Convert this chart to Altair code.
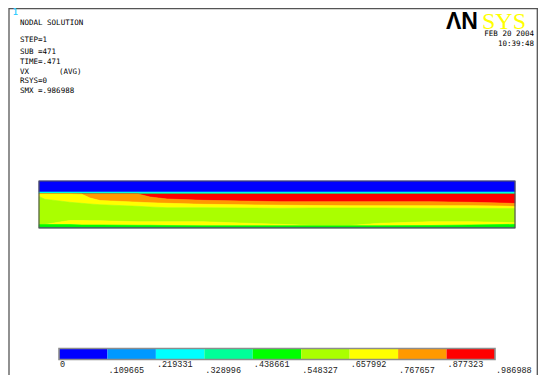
import altair as alt
import pandas as pd

# ---------------- data ----------------
DUCT_LENGTH = 476
DUCT_HEIGHT = 47

# stations along the duct (model units) and band boundaries (height from bottom)
stations = [0, 6, 21, 31, 43, 51, 61, 99, 111, 128, 164, 201, 241, 274, 311, 341, 391, 431, 461, 476]
red_bottom = [34, 34, 34, 34, 34, 34, 34, 34, 31, 29, 27.7, 27, 26.3, 26.3, 26.3, 26.3, 26.3, 25.7, 25, 24.5]
orange_bottom = [34, 34, 34, 34, 33.7, 30, 27.5, 25.8, 25.2, 24.7, 23.7, 23.3, 22.8, 22.5, 22.3, 22.3, 22.3, 22.3, 22, 21.5]
yellow_bottom = [31.5, 28.7, 27, 25.7, 24.7, 24, 23.3, 21.7, 21, 20.3, 20.3, 20, 19.7, 20, 20, 20, 19.7, 19.7, 19.5, 19.5]
lower_yellow_top = [3.5, 3.5, 6, 7.5, 7.5, 7.3, 7.2, 6.3, 6.3, 6.3, 6.3, 5, 3.7, 2.5, 2.5, 4.7, 6.3, 6.3, 5.7, 5.3]
green_top = [3.5, 3.5, 3.5, 3.5, 3, 3, 3, 2.7, 2.7, 2.5, 2.3, 2.3, 2.3, 2.3, 2.3, 2.3, 2.5, 3, 3.5, 3.7]
blue_bottom = 36
cyan_bottom = 35
wall_green_bottom = 34
bottom_green_bottom = 0.7

level_colors = ["#0000FF", "#0099FF", "#00FFFF", "#00FF99", "#00FF00",
                "#AAFF00", "#FFFF00", "#FF9900", "#FF0000"]
level_values = [0, 0.109665, 0.219331, 0.328996, 0.438661,
                0.548327, 0.657992, 0.767657, 0.877323, 0.986988]
level_labels = ["0", ".109665", ".219331", ".328996", ".438661",
                ".548327", ".657992", ".767657", ".877323", ".986988"]

header_lines = ["NODAL SOLUTION", "STEP=1", "SUB =471", "TIME=.471", "VX", "RSYS=0", "SMX =.986988"]
date_text = "FEB 20 2004"
time_text = "10:39:48"

# ---------------- build tables ----------------
n = len(stations)
bands = [
    ("blue", level_colors[0], [blue_bottom] * n, [DUCT_HEIGHT] * n),
    ("cyan", level_colors[2], [cyan_bottom] * n, [blue_bottom] * n),
    ("wallgreen", level_colors[3], [wall_green_bottom] * n, [cyan_bottom] * n),
    ("red", level_colors[8], red_bottom, [wall_green_bottom] * n),
    ("orange", level_colors[7], orange_bottom, red_bottom),
    ("yellow1", level_colors[6], yellow_bottom, orange_bottom),
    ("yellowgreen", level_colors[5], lower_yellow_top, yellow_bottom),
    ("yellow2", level_colors[6], green_top, lower_yellow_top),
    ("green", level_colors[4], [bottom_green_bottom] * n, green_top),
    ("edge", "#2F7F6A", [0] * n, [bottom_green_bottom] * n),
]
rows = []
for order, (name, col, lo, hi) in enumerate(bands):
    for i in range(n):
        rows.append({"band": name, "x": stations[i], "lo": lo[i], "hi": hi[i], "o": order})
field = pd.DataFrame(rows)
band_names = [b[0] for b in bands]
band_cols = [b[1] for b in bands]

xs = alt.Scale(domain=[0, DUCT_LENGTH], range=[31, 507], nice=False, zero=False)
ys = alt.Scale(domain=[0, DUCT_HEIGHT], range=[220, 173], nice=False, zero=False)

contour = alt.Chart(field).mark_area(interpolate="linear", strokeWidth=0.6).encode(
    x=alt.X("x:Q", scale=xs, axis=None),
    y=alt.Y("lo:Q", scale=ys, axis=None, stack=None),
    y2="hi:Q",
    color=alt.Color("band:N", scale=alt.Scale(domain=band_names, range=band_cols), legend=None),
    stroke=alt.Stroke("band:N", scale=alt.Scale(domain=band_names, range=band_cols), legend=None),
    order="o:Q",
)

outline = alt.Chart(pd.DataFrame({"x0": [0], "x1": [DUCT_LENGTH], "y0": [0], "y1": [DUCT_HEIGHT]})).mark_rect(
    filled=False, stroke="#555555", strokeWidth=1.2
).encode(
    x=alt.X("x0:Q", scale=xs, axis=None), x2="x1:Q",
    y=alt.Y("y0:Q", scale=ys, axis=None), y2="y1:Q",
)

# ---------------- colour bar ----------------
bar_df = pd.DataFrame({"lev": list(range(9)), "lev2": list(range(1, 10)), "c": level_colors})
cbx = alt.Scale(domain=[0, 9], range=[51, 487], nice=False, zero=False)
cbar = alt.Chart(bar_df).mark_rect().encode(
    x=alt.X("lev:Q", scale=cbx, axis=None), x2="lev2:Q",
    y=alt.value(341), y2=alt.value(351),
    color=alt.Color("c:N", scale=None, legend=None),
)
cbar_border = alt.Chart(pd.DataFrame({"a": [0], "b": [9]})).mark_rect(
    filled=False, stroke="#8C8C8C", strokeWidth=1.6
).encode(
    x=alt.X("a:Q", scale=cbx, axis=None), x2="b:Q",
    y=alt.value(340.5), y2=alt.value(351.5),
)
lab_df = pd.DataFrame({"i": list(range(10)), "v": level_values, "t": level_labels,
                       "row": [i % 2 for i in range(10)]})
cb_labels = alt.Chart(lab_df).mark_text(
    align="left", baseline="alphabetic", font="Liberation Mono", fontSize=8.5, color="#222222", dx=1
).encode(
    x=alt.X("i:Q", scale=cbx, axis=None),
    y=alt.Y("row:Q", scale=alt.Scale(domain=[0, 1], range=[358.5, 364.8], nice=False, zero=False), axis=None),
    text="t:N",
)

# ---------------- frame and annotations ----------------
def rule(x1, y1, x2, y2):
    return alt.Chart(pd.DataFrame({"k": [0]})).mark_rule(color="#555555", strokeWidth=1.3).encode(
        x=alt.value(x1), y=alt.value(y1), x2=alt.value(x2), y2=alt.value(y2)
    )

frame = [rule(1, 0.6, 530, 0.6), rule(1, 0, 1, 367), rule(529.3, 0, 529.3, 367)]

def txt(s, x, y, size=7.5, color="black", font="DejaVu Sans Mono", align="left",
        baseline="middle", weight="normal"):
    return alt.Chart(pd.DataFrame({"t": [s]})).mark_text(
        align=align, baseline=baseline, font=font, fontSize=size, color=color, fontWeight=weight
    ).encode(text="t:N", x=alt.value(x), y=alt.value(y))

header_y = [15.3, 32, 43.5, 54, 63.5, 73.3, 83.3]
texts = [txt("1", 5, 5, size=8, color="#33CCFF", weight="bold")]
for s, yy in zip(header_lines, header_y):
    texts.append(txt(s, 12, yy))
texts.append(txt("(AVG)", 51, 63.5))
texts.append(txt(date_text, 526, 25.5, align="right"))
texts.append(txt(time_text, 526, 36, align="right"))
texts.append(txt("ΛN", 438, 20.8, size=23, font="Liberation Sans", weight="bold",
                 baseline="alphabetic"))
texts.append(txt("SYS", 474, 20.8, size=24, font="Liberation Serif", color="#FFFF00",
                 baseline="alphabetic"))

chart = alt.layer(
    contour, outline, cbar, cbar_border, cb_labels, *frame, *texts
).resolve_scale(
    x="independent", y="independent", color="independent", stroke="independent"
).properties(
    width=530, height=367, padding=0, autosize="none", background="white"
).configure_view(stroke=None)

chart.save("out.html", embed_options={"renderer": "svg", "actions": False})
